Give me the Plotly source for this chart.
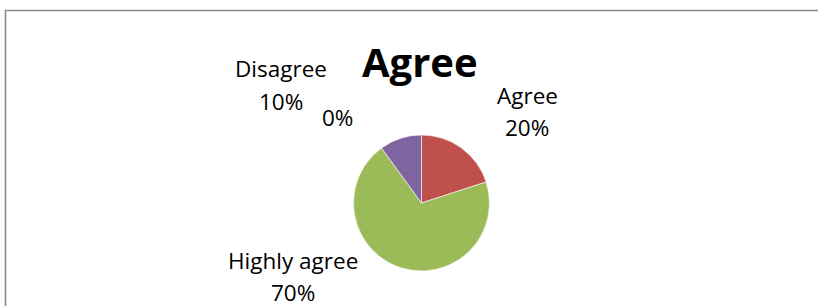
import plotly.graph_objects as go

W, H = 818, 306

# Data
categories = ["", "Agree", "Highly agree", "Disagree"]
values = [0, 20, 70, 10]
colors = ["#4F81BD", "#C0504D", "#9BBB59", "#8064A2"]
title_text = "Agree"

# label placement (pixel centres of the two text lines), layout only
label_pos = {
    "": [(337, 118)],
    "Agree": [(527, 95), (527, 127)],
    "Highly agree": [(293, 260), (293, 292)],
    "Disagree": [(281, 69), (281, 102)],
}

def px(x):
    return x / W

def py(y):
    return 1 - y / H

cx, cy, r = 421.5, 203, 68

fig = go.Figure()
fig.add_trace(go.Pie(
    labels=[c if c else " " for c in categories],
    values=values,
    sort=False,
    direction="clockwise",
    rotation=0,
    marker=dict(colors=colors, line=dict(color="white", width=0.6)),
    textinfo="none",
    hoverinfo="label+percent",
    showlegend=False,
    domain=dict(x=[px(cx - r), px(cx + r)], y=[py(cy + r), py(cy - r)]),
))

total = sum(values)
annotations = []
font = dict(family="Open Sans", size=22.5, color="#000000")
for cat, v in zip(categories, values):
    pct = f"{round(v / total * 100)}%"
    lines = [cat, pct] if cat else [pct]
    for text, (x, y) in zip(lines, label_pos[cat]):
        annotations.append(dict(
            text=text, x=px(x), y=py(y), xref="paper", yref="paper",
            xanchor="center", yanchor="middle", showarrow=False, font=font,
        ))

annotations.append(dict(
    text=f"<b>{title_text}</b>", x=px(420), y=py(62), xref="paper", yref="paper",
    xanchor="center", yanchor="middle", showarrow=False,
    font=dict(family="Open Sans", size=40, color="#000000"),
))

fig.update_layout(
    width=W, height=H,
    margin=dict(l=0, r=0, t=0, b=0),
    paper_bgcolor="white",
    plot_bgcolor="white",
    annotations=annotations,
    shapes=[dict(
        type="rect", xref="paper", yref="paper",
        x0=px(5.5), x1=px(840), y0=py(330), y1=py(10.5),
        line=dict(color="#8a8a8a", width=1.6), fillcolor="rgba(0,0,0,0)",
    )],
)

fig.write_html(
    "out.html",
    config={"displayModeBar": False},
    post_script="document.body.style.margin='0';document.body.style.overflow='hidden';",
)
